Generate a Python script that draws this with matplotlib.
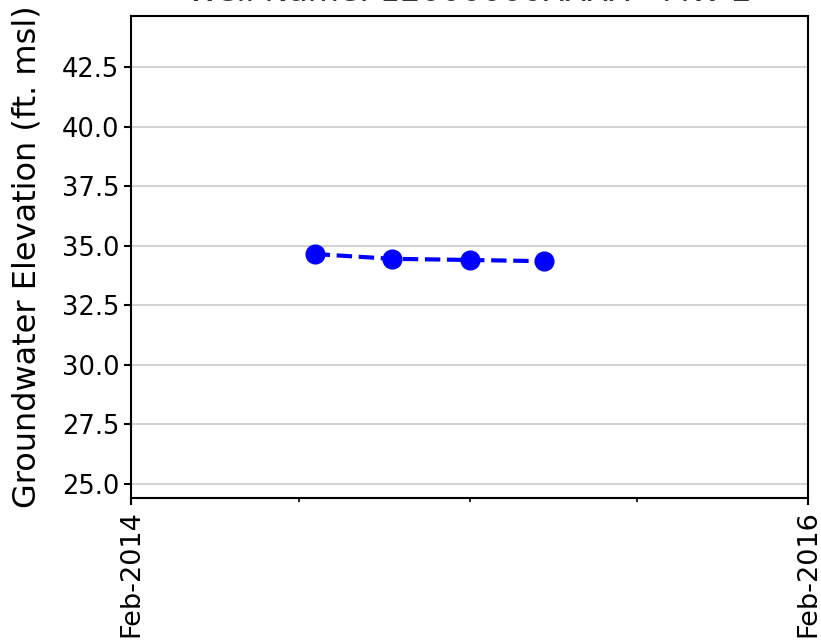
import matplotlib
matplotlib.use("Agg")
import matplotlib.pyplot as plt
import matplotlib.dates as mdates
from datetime import datetime

dates = [datetime(2014, 8, 18), datetime(2014, 11, 9), datetime(2015, 2, 1), datetime(2015, 4, 22)]
elev = [34.65, 34.45, 34.40, 34.35]
yticks = [25.0, 27.5, 30.0, 32.5, 35.0, 37.5, 40.0, 42.5]
title = "Well Name: 12000000XXXX - MW-2"

fig = plt.figure(figsize=(8.21, 6.44), dpi=100)
ax = fig.add_axes([131/821, 1-498/644, (808-131)/821, (498-16)/644])
ax.plot(dates, elev, color="blue", linestyle="--", linewidth=3, marker="o", markersize=13.5)
ax.set_xlim(datetime(2014, 2, 1), datetime(2016, 2, 1))
ax.set_ylim(24.41, 44.64)
ax.set_yticks(yticks)
ax.yaxis.grid(True, color="#d3d3d3", linewidth=1.5)
ax.set_axisbelow(True)
ax.set_xticks([datetime(2014, 2, 1), datetime(2016, 2, 1)])
ax.xaxis.set_major_formatter(mdates.DateFormatter("%b-%Y"))
ax.set_xticks([datetime(2014, 8, 1), datetime(2015, 2, 1), datetime(2015, 8, 1)], minor=True)
plt.setp(ax.get_xticklabels(), rotation=90)
ax.tick_params(axis="both", which="major", labelsize=18.5, length=5, width=1.5)
ax.tick_params(axis="x", which="major", labelsize=19.5)
ax.tick_params(axis="x", which="minor", length=3, width=1.2)
for s in ax.spines.values():
    s.set_linewidth(1.5)
ax.set_ylabel("Groundwater Elevation (ft. msl)", fontsize=23, labelpad=14)
ax.set_title(title, fontsize=23, pad=10.5, color="#333333")
fig.savefig("out.png", dpi=100)
